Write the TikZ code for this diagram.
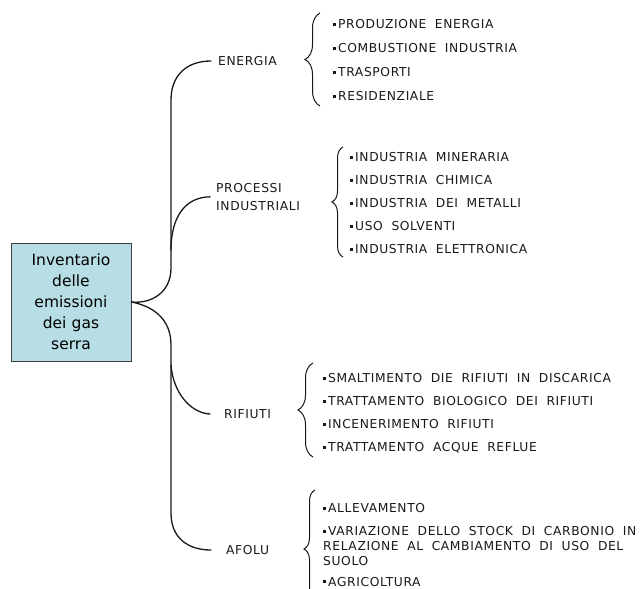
\documentclass[tikz,border=0pt]{standalone}
\usepackage{fontspec}
\setmainfont{DejaVu Sans}
\newfontfamily\capsfont[LetterSpace=5, WordSpace=1.9]{DejaVu Sans}
\usetikzlibrary{decorations.pathreplacing}
\definecolor{boxfill}{RGB}{183,222,228}
\definecolor{boxline}{RGB}{64,64,64}
\definecolor{ink}{RGB}{25,25,25}
\tikzset{
	rootbox/.style={draw=boxline, fill=boxfill, line width=0.8pt, minimum width=120pt, minimum height=118pt, text width=116pt, align=center, inner sep=0pt, font=\fontsize{15.5}{21}\selectfont},
	cat/.style={inner ysep=0pt, align=left, text=ink, font=\capsfont\fontsize{12.3}{18}\selectfont},
	itm/.style={anchor=base west, inner sep=0pt, text=ink, font=\capsfont\fontsize{12.3}{15}\selectfont},
	link/.style={draw=ink, line width=1.3pt, line cap=round},
	grp/.style={draw=ink, line width=1pt, decorate, decoration={brace, amplitude=#1}},
}
\begin{document}
\begin{tikzpicture}[x=1pt, y=-1pt]
	\useasboundingbox (0,0) rectangle (643,589);
	\def\bul{\rule[2.8pt]{3pt}{3pt}\hspace{2pt}}
	\node[rootbox] (inv) at (71,302) {Inventario\\delle\\emissioni\\dei gas\\serra};
	\node[cat, anchor=west, inner xsep=7pt] (energia) at (211,61) {ENERGIA};
	\node[cat, anchor=north west, inner xsep=6pt] (processi) at (210,183) {PROCESSI\\INDUSTRIALI};
	\node[cat, anchor=west, inner xsep=14pt] (rifiuti) at (210,414) {RIFIUTI};
	\node[cat, anchor=west, inner xsep=15pt] (afolu) at (211,550) {AFOLU};
	\coordinate (pj) at (171,250);
	\coordinate (rj) at (171,365);
	\draw[link] (inv.east) .. controls (152,304) and (171,292) .. (171,268) -- (171,100) .. controls (171,75) and (187,61) .. (energia.west);
	\draw[link] (inv.east) .. controls (152,306) and (171,318) .. (171,345) -- (171,513) .. controls (171,538) and (188,550) .. (afolu.west);
	\draw[link] (pj) .. controls (171,216) and (186,197) .. (processi.west);
	\draw[link] (rj) .. controls (173,392) and (190,413) .. (rifiuti.west);
	\draw[grp=15pt] (320,106) -- (320,13);
	\foreach \t [count=\i] in {PRODUZIONE ENERGIA, COMBUSTIONE INDUSTRIA, TRASPORTI, RESIDENZIALE}
		\node[itm] (en\i) at (333,{24*\i+4.4}) {\bul\t};
	\draw[grp=11pt] (343,257) -- (343,147);
	\foreach \t [count=\i] in {INDUSTRIA MINERARIA, INDUSTRIA CHIMICA, INDUSTRIA DEI METALLI, USO SOLVENTI, INDUSTRIA ELETTRONICA}
		\node[itm] (pr\i) at (350,{138.4+23*\i}) {\bul\t};
	\draw[grp=15pt] (313,457) -- (313,363);
	\foreach \t [count=\i] in {SMALTIMENTO DIE RIFIUTI IN DISCARICA, TRATTAMENTO BIOLOGICO DEI RIFIUTI, INCENERIMENTO RIFIUTI, TRATTAMENTO ACQUE REFLUE}
		\node[itm] (ri\i) at (323,{359.4+23*\i}) {\bul\t};
	\draw[grp=11pt] (315,608) -- (315,490);
	\node[itm] (af1) at (323,512.4) {\bul ALLEVAMENTO};
	\node[itm, anchor=north west, align=left] (af2) at (323,526.6) {\bul VARIAZIONE DELLO STOCK DI CARBONIO IN\\RELAZIONE AL CAMBIAMENTO DI USO DEL\\SUOLO};
	\node[itm] (af3) at (323,586) {\bul AGRICOLTURA};
\end{tikzpicture}
\end{document}
